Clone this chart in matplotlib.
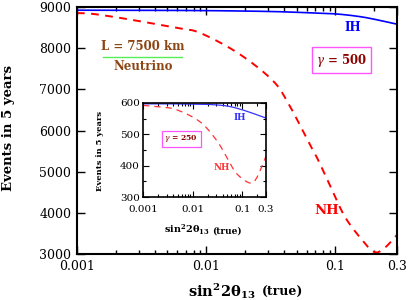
import numpy as np
import matplotlib
matplotlib.use("Agg")
import matplotlib.pyplot as plt
from matplotlib.ticker import NullFormatter, LogLocator

plt.rcParams['font.family'] = 'DejaVu Serif'
plt.rcParams['mathtext.fontset'] = 'dejavuserif'

# Main panel data (gamma = 500)
x_nh = [0.001, 0.00133, 0.0025, 0.00594, 0.00895, 0.0176, 0.0323, 0.043, 0.0636, 0.0733, 0.0941, 0.1186, 0.16, 0.2, 0.24, 0.3]
y_nh = [8850, 8830, 8700, 8490, 8370, 7880, 7230, 6670, 5650, 5290, 4560, 3900, 3350, 3050, 3150, 3470]
x_ih = [0.001, 0.003, 0.01, 0.03, 0.06, 0.1, 0.15, 0.2, 0.3]
y_ih = [8920, 8918, 8910, 8890, 8860, 8830, 8770, 8700, 8580]

# Inset data (gamma = 250)
xi_nh = [0.001, 0.002, 0.00476, 0.014, 0.030, 0.048, 0.076, 0.141, 0.194, 0.3]
yi_nh = [592, 588, 578, 540, 482, 429, 376, 345, 360, 429]
xi_ih = [0.001, 0.003, 0.01, 0.022, 0.05, 0.1, 0.2, 0.3]
yi_ih = [597, 597, 596, 595, 590, 578, 562, 552]

main_xticks = [0.001, 0.01, 0.1, 0.3]
main_xticklabels = ['0.001', '0.01', '0.1', '0.3']
main_yticks = [3000, 4000, 5000, 6000, 7000, 8000, 9000]
inset_yticks = [300, 400, 500, 600]
inset_minor_yticks = [350, 450, 550]

W, H = 409, 300
fig = plt.figure(figsize=(W / 100, H / 100), dpi=100)
ax = fig.add_axes([0.188, 0.153, 0.783, 0.824])


def smooth(xs, ys):
    lx = np.log10(xs)
    pts = np.array(list(zip(lx, ys)), dtype=float)
    out_x, out_y = [], []
    P = np.vstack([pts[0] * 2 - pts[1], pts, pts[-1] * 2 - pts[-2]])
    for i in range(1, len(P) - 2):
        p0, p1, p2, p3 = P[i - 1], P[i], P[i + 1], P[i + 2]
        for s in np.linspace(0, 1, 20, endpoint=False):
            s2, s3 = s * s, s * s * s
            pt = 0.5 * ((2 * p1) + (-p0 + p2) * s + (2 * p0 - 5 * p1 + 4 * p2 - p3) * s2
                        + (-p0 + 3 * p1 - 3 * p2 + p3) * s3)
            out_x.append(pt[0]); out_y.append(pt[1])
    out_x.append(P[-2][0]); out_y.append(P[-2][1])
    return 10 ** np.array(out_x), np.array(out_y)


sx, sy = smooth(x_ih, y_ih)
ax.plot(sx, sy, color='#0000ff', lw=1.2)
sx, sy = smooth(x_nh, y_nh)
ax.plot(sx, sy, color='#ff0000', lw=1.4, dashes=(4, 3.3))
ax.set_xscale('log')
ax.set_xlim(0.001, 0.3)
ax.set_ylim(3000, 9000)
ax.set_xticks(main_xticks)
ax.set_xticklabels(main_xticklabels)
ax.set_yticks(main_yticks)
ax.set_yticks([], minor=True)
ax.xaxis.set_minor_locator(LogLocator(base=10, subs=np.arange(2, 10)))
ax.xaxis.set_minor_formatter(NullFormatter())
ax.tick_params(which='both', direction='in', top=True, right=True, labelsize=9, width=1)
ax.tick_params(which='major', length=6, pad=4)
ax.tick_params(which='minor', length=3)
for s in ax.spines.values():
    s.set_linewidth(1.5)

# axis labels placed in figure pixels
fig.text(9 / W, 1 - 128 / H, 'Events in 5 years', rotation=90, ha='center', va='center',
         fontsize=9.5, fontweight='bold')
fig.text(256 / W, 1 - 291 / H, r'$\mathbf{sin^2 2\theta_{13}}$', ha='right', va='center',
         fontsize=10.5, fontweight='bold')
fig.text(262 / W, 1 - 292 / H, '(true)', ha='left', va='center',
         fontsize=9, fontweight='bold')

ax.text(0.206, 0.838, 'L = 7500 km', transform=ax.transAxes, ha='center', va='center',
        fontsize=8.5, fontweight='bold', color='#8b4513')
ax.plot([0.081, 0.328], [0.798, 0.798], transform=ax.transAxes, color='#55ee55', lw=1)
ax.text(0.206, 0.76, 'Neutrino', transform=ax.transAxes, ha='center', va='center',
        fontsize=8.5, fontweight='bold', color='#8b4513')
ax.text(0.825, 0.785, r'$\gamma$ = 500', transform=ax.transAxes, ha='center', va='center',
        fontsize=8.5, fontweight='bold', color='#8b0000',
        bbox=dict(boxstyle='square,pad=0.35', fc='white', ec='#ff55ff', lw=1))
ax.text(0.86, 0.915, 'IH', transform=ax.transAxes, ha='center', va='center',
        fontsize=8.5, fontweight='bold', color='#0000ff')
ax.text(0.78, 0.178, 'NH', transform=ax.transAxes, ha='center', va='center',
        fontsize=9.5, fontweight='bold', color='#ff0000')

# Inset
ai = fig.add_axes([0.350, 0.343, 0.300, 0.314])
sx, sy = smooth(xi_ih, yi_ih)
ai.plot(sx, sy, color='#3333ff', lw=0.9)
sx, sy = smooth(xi_nh, yi_nh)
ai.plot(sx, sy, color='#ff3333', lw=0.9, dashes=(5, 4))
ai.set_xscale('log')
ai.set_xlim(0.001, 0.3)
ai.set_ylim(300, 600)
ai.set_xticks(main_xticks)
ai.set_xticklabels(main_xticklabels)
ai.set_yticks(inset_yticks)
ai.set_yticks(inset_minor_yticks, minor=True)
ai.xaxis.set_minor_locator(LogLocator(base=10, subs=np.arange(2, 10)))
ai.xaxis.set_minor_formatter(NullFormatter())
ai.tick_params(which='both', direction='in', top=True, right=True, labelsize=7.5, width=0.8)
ai.tick_params(which='major', length=4, pad=2.5)
ai.tick_params(axis='x', which='major', pad=6)
ai.tick_params(which='minor', length=2.5)
for s in ai.spines.values():
    s.set_linewidth(1.2)
fig.text(100 / W, 1 - 151 / H, 'Events in 5 years', rotation=90, ha='center', va='center',
         fontsize=6, fontweight='bold')
fig.text(210 / W, 1 - 230 / H, r'$\mathbf{sin^2 2\theta_{13}}$', ha='right', va='center',
         fontsize=7, fontweight='bold')
fig.text(212 / W, 1 - 231 / H, '(true)', ha='left', va='center',
         fontsize=6.5, fontweight='bold')
ai.text(0.79, 0.85, 'IH', transform=ai.transAxes, ha='center', va='center',
        fontsize=6.3, fontweight='bold', color='#3333ff')
ai.text(0.64, 0.31, 'NH', transform=ai.transAxes, ha='center', va='center',
        fontsize=6.3, fontweight='bold', color='#ff3333')
ai.text(0.31, 0.617, r'$\gamma$ = 250', transform=ai.transAxes, ha='center', va='center',
        fontsize=5.5, fontweight='bold', color='#8b0000',
        bbox=dict(boxstyle='square,pad=0.35', fc='white', ec='#ff55ff', lw=0.9))

fig.savefig('out.png', dpi=100)
